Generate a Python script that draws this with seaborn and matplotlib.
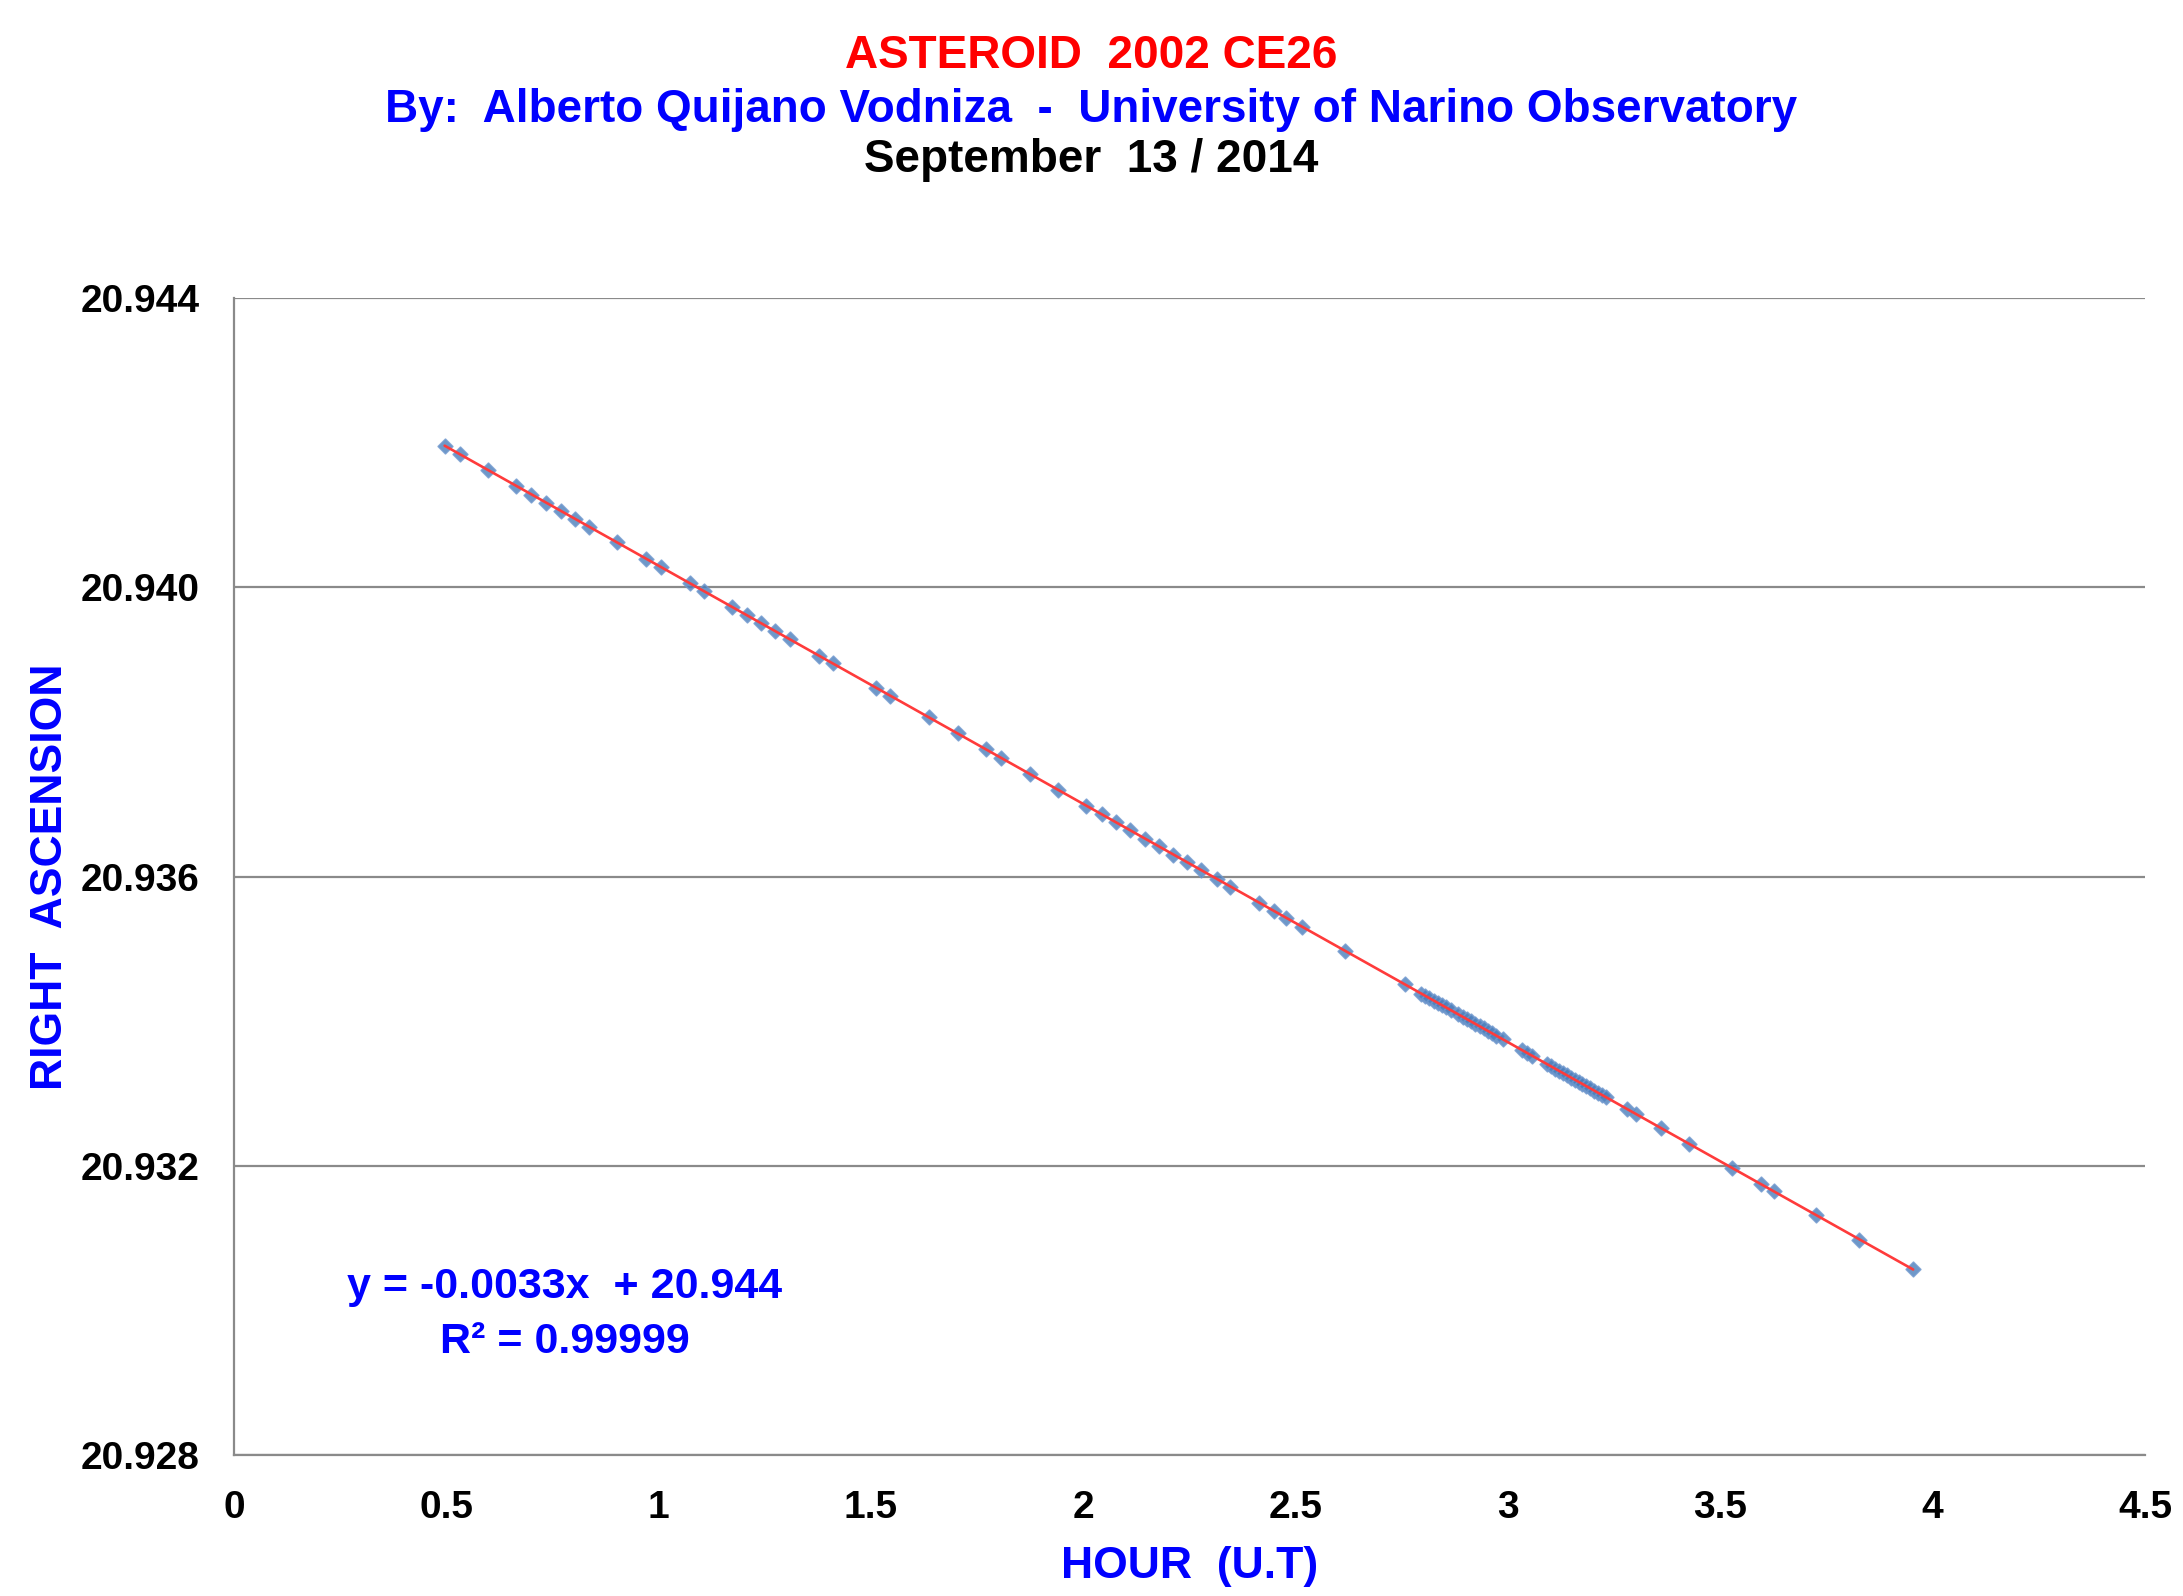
import numpy as np
import pandas as pd
import matplotlib
matplotlib.use("Agg")
import matplotlib.pyplot as plt
import seaborn as sns

# ---- data ----
hours = [0.496, 0.532, 0.598, 0.665, 0.700, 0.734, 0.769, 0.802, 0.836, 0.902,
         0.971, 1.006, 1.073, 1.106, 1.173, 1.208, 1.242, 1.275, 1.310, 1.377,
         1.410, 1.511, 1.545, 1.636, 1.704, 1.771, 1.806, 1.874, 1.941, 2.006,
         2.043, 2.077, 2.111, 2.145, 2.178, 2.212, 2.245, 2.277, 2.314, 2.346,
         2.414, 2.448, 2.478, 2.516, 2.616, 2.757,
         2.795, 2.805, 2.815, 2.825, 2.835, 2.845, 2.855, 2.866,
         2.882, 2.893, 2.903, 2.913, 2.923, 2.933, 2.943, 2.953, 2.963, 2.972,
         2.988, 3.033, 3.045, 3.056,
         3.092, 3.101, 3.111, 3.120, 3.130, 3.139, 3.148, 3.157, 3.166, 3.175,
         3.184, 3.194, 3.203, 3.213, 3.222, 3.231,
         3.281, 3.301, 3.360, 3.426, 3.528, 3.596, 3.626, 3.725, 3.827, 3.954]

right_ascension = [20.94196, 20.94184, 20.94162, 20.94140, 20.94128, 20.94117, 20.94106, 20.94095, 20.94084, 20.94062,
                   20.94039, 20.94028, 20.94006, 20.93995, 20.93973, 20.93961, 20.93950, 20.93939, 20.93928, 20.93905,
                   20.93895, 20.93861, 20.93850, 20.93820, 20.93798, 20.93776, 20.93764, 20.93742, 20.93720, 20.93698,
                   20.93686, 20.93675, 20.93664, 20.93652, 20.93642, 20.93630, 20.93620, 20.93609, 20.93597, 20.93586,
                   20.93564, 20.93553, 20.93543, 20.93530, 20.93497, 20.93451,
                   20.93438, 20.93435, 20.93432, 20.93428, 20.93425, 20.93422, 20.93419, 20.93415,
                   20.93410, 20.93406, 20.93403, 20.93400, 20.93396, 20.93393, 20.93390, 20.93386, 20.93383, 20.93380,
                   20.93375, 20.93360, 20.93356, 20.93352,
                   20.93341, 20.93338, 20.93334, 20.93331, 20.93328, 20.93325, 20.93322, 20.93319, 20.93316, 20.93313,
                   20.93310, 20.93307, 20.93304, 20.93301, 20.93298, 20.93295,
                   20.93278, 20.93272, 20.93252, 20.93230, 20.93197, 20.93175, 20.93165, 20.93132, 20.93098, 20.93057]

x_ticks = [0, 0.5, 1, 1.5, 2, 2.5, 3, 3.5, 4, 4.5]
x_tick_labels = ["0", "0.5", "1", "1.5", "2", "2.5", "3", "3.5", "4", "4.5"]
y_ticks = [20.928, 20.932, 20.936, 20.940, 20.944]
y_tick_labels = ["20.928", "20.932", "20.936", "20.940", "20.944"]

title_lines = ["ASTEROID  2002 CE26",
               "By:  Alberto Quijano Vodniza  -  University of Narino Observatory",
               "September  13 / 2014"]
x_label = "HOUR  (U.T)"
y_label = "RIGHT  ASCENSION"
equation_text = "y = -0.0033x  + 20.944"
r2_text = "R\u00b2 = 0.99999"

df = pd.DataFrame({"hour": hours, "ra": right_ascension})

# ---- style ----
sns.set_style("white")
plt.rcParams["font.family"] = ["Liberation Sans", "DejaVu Sans"]
plt.rcParams["font.weight"] = "bold"

fig = plt.figure(figsize=(21.83, 15.96), dpi=100)
ax = fig.add_axes([0.1072, 0.0883, 0.9826 - 0.1072, 0.8133 - 0.0883])

grid_col = "#8a8a8a"

sns.regplot(data=df, x="hour", y="ra", ax=ax, ci=None, truncate=True,
            marker="D",
            scatter_kws=dict(s=56, color="#4A7EBB", edgecolor="#7098CE",
                             linewidths=1.2, zorder=2),
            line_kws=dict(color="#FF3B3B", linewidth=1.9, zorder=3))

ax.set_xlim(0, 4.5)
ax.set_ylim(20.928, 20.944)
ax.set_xticks(x_ticks)
ax.set_xticklabels(x_tick_labels)
ax.set_yticks(y_ticks)
ax.set_yticklabels(y_tick_labels)

ax.yaxis.grid(True, color=grid_col, linewidth=1.6, zorder=0)
ax.xaxis.grid(False)
ax.set_axisbelow(True)

for side in ["top", "right"]:
    ax.spines[side].set_visible(False)
for side in ["left", "bottom"]:
    ax.spines[side].set_color(grid_col)
    ax.spines[side].set_linewidth(1.6)

ax.tick_params(axis="both", which="major", direction="out", length=8,
               width=1.2, color=grid_col, labelsize=28, labelcolor="black",
               pad=17)
for lab in ax.get_xticklabels() + ax.get_yticklabels():
    lab.set_fontweight("bold")

ax.set_xlabel(x_label, fontsize=32, fontweight="bold", color="#0000FF")
ax.set_ylabel(y_label, fontsize=32, fontweight="bold", color="#0000FF")
ax.xaxis.set_label_coords(0.5, -0.0786)
ax.yaxis.set_label_coords(-0.0853, 0.5)

# trendline annotation
ax.text(0.1732, 0.136, equation_text, transform=ax.transAxes, ha="center",
        va="baseline", fontsize=31, fontweight="bold", color="#0000FF")
ax.text(0.1732, 0.0884, r2_text, transform=ax.transAxes, ha="center",
        va="baseline", fontsize=31, fontweight="bold", color="#0000FF")

# titles
fig.text(0.5, 0.9575, title_lines[0], ha="center", va="baseline",
         fontsize=33, fontweight="bold", color="#FF0000")
fig.text(0.5, 0.9235, title_lines[1], ha="center", va="baseline",
         fontsize=33, fontweight="bold", color="#0000FF")
fig.text(0.5, 0.8920, title_lines[2], ha="center", va="baseline",
         fontsize=33, fontweight="bold", color="black")

fig.savefig("out.png", dpi=100, facecolor="white")
